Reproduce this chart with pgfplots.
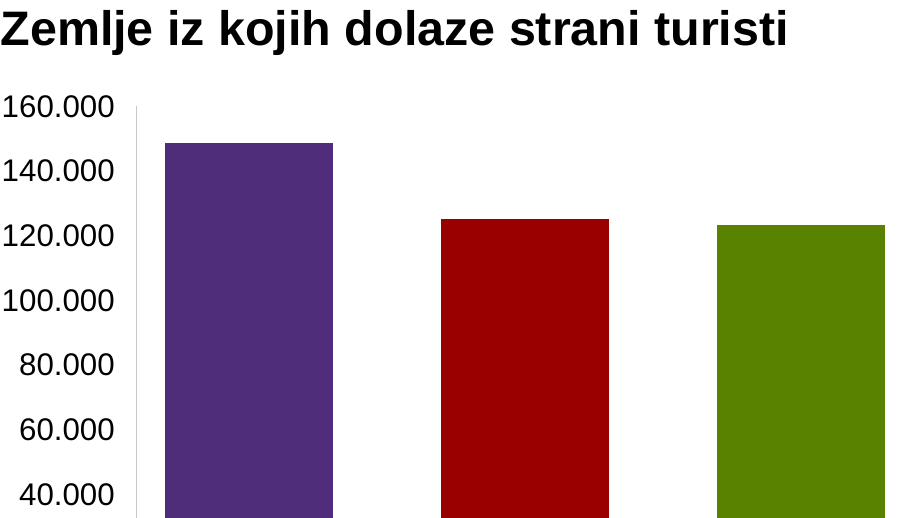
\documentclass[border=0pt]{standalone}
\usepackage{pgfplots}
\pgfplotsset{compat=1.18}
\usepackage{fontspec}
\setmainfont{Liberation Sans}
\definecolor{cPurple}{HTML}{4F2D7A}
\definecolor{cRed}{HTML}{990000}
\definecolor{cGreen}{HTML}{588200}
\definecolor{cAxis}{HTML}{C8C8C8}
\begin{document}
\begin{tikzpicture}[x=1bp,y=1bp]
\useasboundingbox (0,0) rectangle (920,518);
\node[anchor=base west, inner sep=0pt, font=\fontsize{48.6}{50}\selectfont\bfseries] at (0.3,472.3) {Zemlje iz kojih dolaze strani turisti};
\begin{axis}[
  at={(136.5bp,0bp)}, anchor=south west,
  scale only axis,
  width=777bp, height=411.5bp,
  xmin=-0.4076, xmax=2.4076,
  ymin=32732, ymax=160000,
  axis x line=none,
  axis y line=left,
  axis line style={-, draw=cAxis, line width=1.6bp},
  ytick={40000,60000,80000,100000,120000,140000,160000},
  yticklabels={40.000,60.000,80.000,100.000,120.000,140.000,160.000},
  major tick length=0pt,
  scaled y ticks=false,
  yticklabel style={anchor=east, inner sep=0pt, xshift=-21.5bp, font=\fontsize{31.4}{34}\selectfont},
  xtick=\empty,
  ybar, bar width=0.6087, bar shift=0pt,
  clip=true,
]
\addplot[fill=cPurple, draw=none] coordinates {(0,148800)};
\addplot[fill=cRed, draw=none] coordinates {(1,125200)};
\addplot[fill=cGreen, draw=none] coordinates {(2,123450)};
\end{axis}
\end{tikzpicture}
\end{document}
